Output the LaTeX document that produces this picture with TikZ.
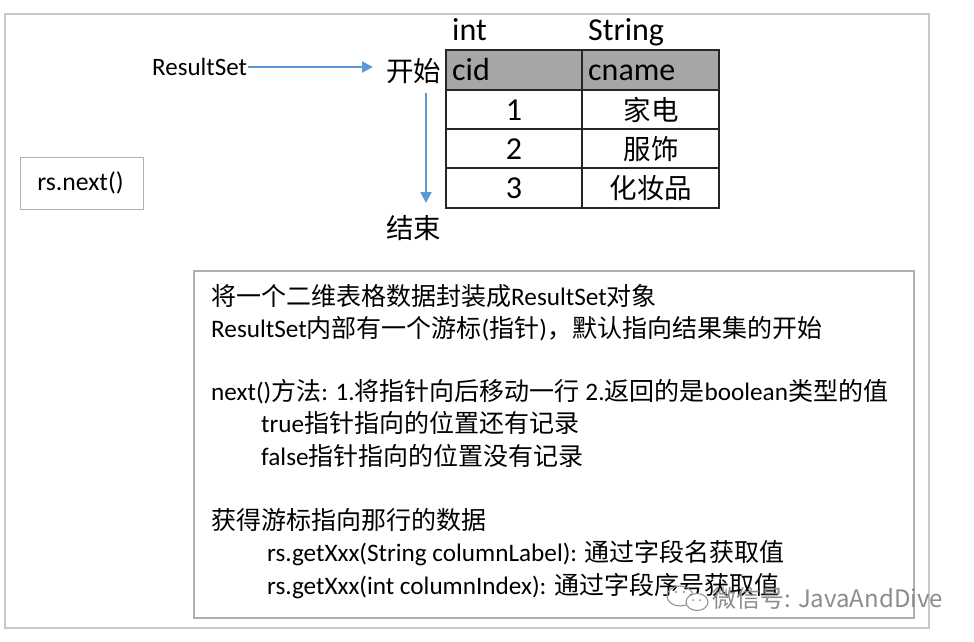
\documentclass[tikz,border=0pt]{standalone}
\usepackage{fontspec}
\setmainfont{Carlito}
\newfontfamily\cjkfont{Noto Sans CJK SC}
\newcommand\zh[1]{{\cjkfont\fontsize{25}{30}\selectfont #1}}
\newcommand\zhbig[1]{{\cjkfont\fontsize{27.5}{34}\selectfont #1}}
\usetikzlibrary{arrows.meta}
\definecolor{arrblue}{RGB}{91,155,213}
\definecolor{hdrgrey}{RGB}{166,166,166}
\definecolor{framegrey}{RGB}{200,200,200}
\definecolor{boxgrey}{RGB}{175,175,175}
\definecolor{wmgrey}{RGB}{140,140,140}
\tikzset{
  txt/.style={inner sep=0pt, anchor=base west, font=\fontsize{25.2}{30}\selectfont},
  big/.style={inner sep=0pt, anchor=base west, font=\fontsize{32}{36}\selectfont},
  cellc/.style={inner sep=0pt, anchor=base, font=\fontsize{32}{36}\selectfont},
  grid/.style={draw=black!85, line width=1.6pt},
  arr/.style={draw=arrblue, line width=2pt, -{Triangle[length=11pt,width=11pt]}},
}
\begin{document}
\begin{tikzpicture}[x=1pt,y=-1pt]
\useasboundingbox (0,0) rectangle (974,641);
\fill[white] (0,0) rectangle (974,641);
% outer frame
\draw[framegrey, line width=2pt] (5,14) rectangle (929,628);

% table
\fill[hdrgrey] (446,50) rectangle (719,90);
\draw[grid] (446,50) rectangle (719,208);
\draw[grid] (582,50) -- (582,208);
\draw[grid] (446,90) -- (719,90);
\draw[grid] (446,129) -- (719,129);
\draw[grid] (446,168) -- (719,168);

\node[big] (tint) at (452,40) {int};
\node[big] (tstr) at (588,40) {String};
\node[big] (hcid) at (452,80) {cid};
\node[big] (hcname) at (588,80) {cname};
\node[cellc] (r1a) at (514,120) {1};
\node[cellc] (r1b) at (651,120) {\zhbig{家电}};
\node[cellc] (r2a) at (514,159) {2};
\node[cellc] (r2b) at (651,159) {\zhbig{服饰}};
\node[cellc] (r3a) at (514,198) {3};
\node[cellc] (r3b) at (651,198) {\zhbig{化妆品}};

% start / end
\node[big] (kaishi) at (386,81) {\zhbig{开始}};
\node[big] (jieshu) at (386,238) {\zhbig{结束}};
\node[txt, anchor=west, font=\fontsize{25}{30}\selectfont] (rslabel) at (152,67) {ResultSet};
\coordinate (hend) at (373,67);
\coordinate (vstart) at (426,93);
\coordinate (vend) at (426,203);
\draw[arr, shorten <=1pt] (rslabel.east) -- (hend);
\draw[arr] (vstart) -- (vend);

% rs.next() box
\draw[boxgrey, line width=1pt] (20,157) rectangle (143,209);
\node[txt, anchor=center, font=\fontsize{25.7}{30}\selectfont] (rsnext) at (80.5,183) {rs.next()};

% text box
\draw[boxgrey, line width=1.5pt] (194,271) rectangle (914,618);
\node[txt] (l1) at (211,305) {\zh{将一个二维表格数据封装成}ResultSet\zh{对象}};
\node[txt] (l2) at (211,337) {ResultSet\zh{内部有一个游标}(\zh{指针})\zh{，默认指向结果集的开始}};
\node[txt] (l4) at (211,400) {next()\zh{方法}: 1.\zh{将指针向后移动一行} 2.\zh{返回的是}boolean\zh{类型的值}};
\node[txt] (l5) at (261,432) {true\zh{指针指向的位置还有记录}};
\node[txt] (l6) at (261,465) {false\zh{指针指向的位置没有记录}};
\node[txt] (l8) at (211,529) {\zh{获得游标指向那行的数据}};
\node[txt] (l9) at (267,561) {rs.getXxx(String columnLabel): \zh{通过字段名获取值}};
\node[txt] (l10) at (267,594) {rs.getXxx(int columnIndex): \zh{通过字段序号获取值}};

% watermark
\begin{scope}[wmgrey, line width=1pt]
  \draw (680,596) ellipse [x radius=13, y radius=10];
  \draw[fill=white] (697,602) ellipse [x radius=11, y radius=8.5];
  \fill (676,592) circle (1.2) (684,592) circle (1.2);
  \fill (693,600) circle (1) (700,600) circle (1);
\end{scope}
\node[inner sep=0pt, anchor=base west, text=wmgrey, font=\cjkfont\fontsize{24}{28}\selectfont] (wm) at (712,607) {微信号: JavaAndDive};
\end{tikzpicture}
\end{document}
